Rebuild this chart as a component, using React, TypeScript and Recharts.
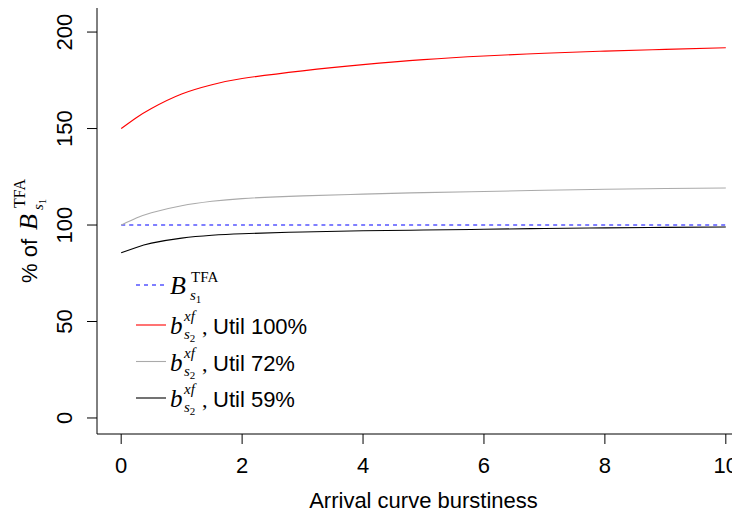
import { LineChart, Line, XAxis, YAxis, Legend } from 'recharts';

const SANS = '"Liberation Sans", Arial, Helvetica, sans-serif';
const SERIF = '"Liberation Serif", "Times New Roman", serif';

// burstiness values (x) and the four series
const BURSTINESS = [0, 0.25, 0.5, 1, 1.5, 2, 3, 4, 5, 6, 7, 8, 9, 10];
const TFA_REF = [100, 100, 100, 100, 100, 100, 100, 100, 100, 100, 100, 100, 100, 100];
const UTIL_100 = [150, 155.6, 160.4, 167.9, 172.7, 175.9, 179.9, 183.1, 185.7, 187.6, 189.0, 190.1, 191.0, 191.9];
const UTIL_72 = [100, 103.6, 106.4, 110.0, 112.3, 113.7, 115.1, 116.0, 116.8, 117.4, 118.0, 118.5, 118.9, 119.2];
const UTIL_59 = [85.6, 88.4, 90.6, 93.2, 94.7, 95.5, 96.4, 97.0, 97.4, 97.8, 98.2, 98.5, 98.8, 99.0];

const X_TICKS = [0, 2, 4, 6, 8, 10];
const Y_TICKS = [0, 50, 100, 150, 200];
const UTIL_LABELS = ['100%', '72%', '59%'];

const X_DOMAIN = [-0.4, 10.4];
const Y_DOMAIN = [-8.3, 213.5];

const SERIES = [
  { key: 'tfa', color: '#0000FF', dash: '4 4' },
  { key: 'u100', color: '#FF0000', dash: undefined },
  { key: 'u72', color: '#AAAAAA', dash: undefined },
  { key: 'u59', color: '#000000', dash: undefined },
];

const data = BURSTINESS.map((b, i) => ({
  b,
  tfa: TFA_REF[i],
  u100: UTIL_100[i],
  u72: UTIL_72[i],
  u59: UTIL_59[i],
}));

function YTick({ x, y, payload }: any) {
  return (
    <text
      x={x}
      y={y}
      transform={`rotate(-90 ${x} ${y})`}
      textAnchor="middle"
      fontFamily={SANS}
      fontSize={22}
      fill="#000"
    >
      {payload.value}
    </text>
  );
}

function YTitle({ viewBox }: any) {
  const cy = viewBox.y + viewBox.height / 2;
  const bx = viewBox.x + 37;
  return (
    <g transform={`translate(${bx},${cy}) rotate(-90)`}>
      <text x={-63} y={0} fontFamily={SANS} fontSize={22} fill="#000">% of</text>
      <text x={-10} y={0} fontFamily={SERIF} fontStyle="italic" fontSize={26} fill="#000">B</text>
      <text x={12} y={-12} fontFamily={SERIF} fontSize={16} fill="#000">TFA</text>
      <text x={10} y={6} fontFamily={SERIF} fontStyle="italic" fontSize={15} fill="#000">
        s<tspan fontStyle="normal" fontSize={11} dy={3}>1</tspan>
      </text>
    </g>
  );
}

function MathLegend() {
  const rows = [25, 65, 101.5, 138];
  return (
    <svg width={200} height={160} style={{ display: 'block' }}>
      {SERIES.map((s, i) => {
        const ly = rows[i];
        const base = ly + 9;
        return (
          <g key={s.key}>
            <line x1={6} x2={36} y1={ly} y2={ly} stroke={s.color} strokeWidth={1.1} strokeDasharray={s.dash} />
            {i === 0 ? (
              <>
                <text x={40} y={base} fontFamily={SERIF} fontStyle="italic" fontSize={26} fill="#000">B</text>
                <text x={61} y={base - 12} fontFamily={SERIF} fontSize={15} fill="#000">TFA</text>
                <text x={60} y={base + 6} fontFamily={SERIF} fontStyle="italic" fontSize={15} fill="#000">
                  s<tspan fontStyle="normal" fontSize={11} dy={3}>1</tspan>
                </text>
              </>
            ) : (
              <>
                <text x={40} y={base} fontFamily={SERIF} fontStyle="italic" fontSize={25} fill="#000">b</text>
                <text x={54} y={base - 13} fontFamily={SERIF} fontStyle="italic" fontSize={15} fill="#000">xf</text>
                <text x={54} y={base + 5} fontFamily={SERIF} fontStyle="italic" fontSize={15} fill="#000">
                  s<tspan fontStyle="normal" fontSize={11} dy={3}>2</tspan>
                </text>
                <text x={72} y={base} fontFamily={SERIF} fontSize={22} fill="#000">,</text>
                <text x={83} y={base} fontFamily={SANS} fontSize={22} fill="#000">
                  Util {UTIL_LABELS[i - 1]}
                </text>
              </>
            )}
          </g>
        );
      })}
    </svg>
  );
}

export default function App() {
  return (
    <div style={{ margin: -8, width: 740, height: 516, overflow: 'hidden', background: '#fff' }}>
      <LineChart width={760} height={516} data={data} margin={{ top: 0, right: 10, bottom: 0, left: 0 }}>
        <XAxis
          dataKey="b"
          type="number"
          domain={X_DOMAIN}
          ticks={X_TICKS}
          allowDataOverflow
          height={82}
          tickSize={10}
          tickMargin={13}
          tick={{ fill: '#000', fontSize: 22, fontFamily: SANS }}
          tickLine={{ stroke: '#000' }}
          axisLine={{ stroke: '#000' }}
          label={{
            value: 'Arrival curve burstiness',
            position: 'insideBottom',
            offset: 8,
            fill: '#000',
            fontSize: 22,
            fontFamily: SANS,
          }}
        />
        <XAxis
          xAxisId="top"
          orientation="top"
          type="number"
          domain={X_DOMAIN}
          height={6}
          tick={false}
          tickLine={false}
          axisLine={{ stroke: '#000' }}
        />
        <YAxis
          type="number"
          domain={Y_DOMAIN}
          ticks={Y_TICKS}
          allowDataOverflow
          width={97}
          tickSize={10}
          tickMargin={15}
          tick={<YTick />}
          tickLine={{ stroke: '#000' }}
          axisLine={{ stroke: '#000' }}
          label={<YTitle />}
        />
        <Legend
          layout="vertical"
          align="center"
          verticalAlign="middle"
          content={() => <MathLegend />}
          wrapperStyle={{ left: 130, top: 260, width: 200, height: 160 }}
        />
        {SERIES.map((s) => (
          <Line
            key={s.key}
            dataKey={s.key}
            type="natural"
            stroke={s.color}
            strokeWidth={1.1}
            strokeDasharray={s.dash}
            dot={false}
            activeDot={false}
            isAnimationActive={false}
          />
        ))}
      </LineChart>
    </div>
  );
}
